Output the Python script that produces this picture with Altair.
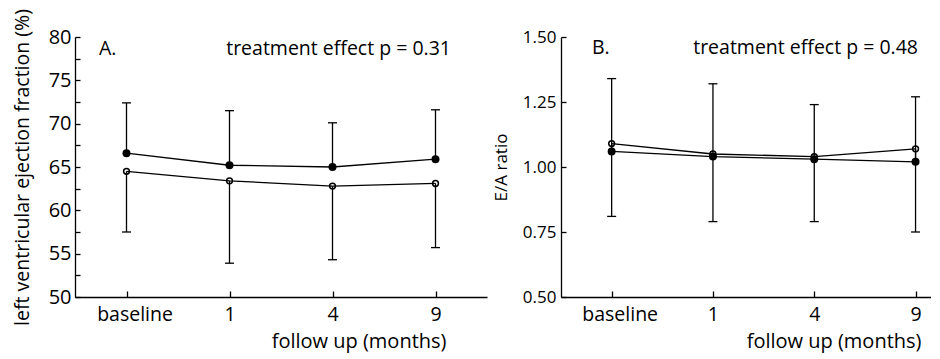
import json
import altair as alt
import pandas as pd

categories = ["baseline", "1", "4", "9"]

a_filled_mean = [66.6, 65.2, 65.0, 65.9]
a_filled_upper = [72.4, 71.5, 70.1, 71.6]
a_open_mean = [64.5, 63.4, 62.8, 63.1]
a_open_lower = [57.5, 53.9, 54.3, 55.7]

b_filled_mean = [1.06, 1.04, 1.03, 1.02]
b_filled_upper = [1.34, 1.32, 1.24, 1.27]
b_open_mean = [1.09, 1.05, 1.04, 1.07]
b_open_lower = [0.81, 0.79, 0.79, 0.75]

a_y_labels = [50, 55, 60, 65, 70, 75, 80]
a_y_ticks = [50, 52.5, 55, 57.5, 60, 62.5, 65, 67.5, 70, 72.5, 75, 77.5, 80]
b_y_labels = [0.50, 0.75, 1.00, 1.25, 1.50]

panel_letters = ["A.", "B."]
p_texts = ["treatment effect p = 0.31", "treatment effect p = 0.48"]
y_titles = ["left ventricular ejection fraction (%)", "E/A ratio"]
x_title = "follow up (months)"

FONT = "Open Sans"
label_expr = json.dumps(categories) + "[datum.value]"
cat_idx = list(range(len(categories)))


def make_df(fm, fe, om, oe):
    n = len(categories)
    return pd.DataFrame({
        "i": cat_idx * 2,
        "series": ["filled"] * n + ["open"] * n,
        "mean": fm + om,
        "end": fe + oe,
    })


def panel(df, ydom, ylabels, yticks, yfmt, ytitle, ytitle_size, ylabel_size,
          ytitle_x, ylabel_pad, letter, ptext, width, xmax, letter_x, ptext_x,
          xtitle_x, text_y):
    height = 260
    xs = alt.Scale(domain=[-0.5, xmax], nice=False, zero=False)
    ys = alt.Scale(domain=ydom, nice=False, zero=False)
    main_x_axis = alt.Axis(values=cat_idx, labelExpr=label_expr, ticks=False,
                           tickSize=0, labelPadding=8, labelFontSize=19.5,
                           labelOffset={"condition": {"test": "datum.value == 0", "value": 8},
                                        "value": 0},
                           labelAngle=0, title=x_title, titleFontSize=20,
                           titleX=xtitle_x, titleY=50, titleAlign="right",
                           titleBaseline="alphabetic", grid=False)
    main_y_axis = alt.Axis(values=ylabels, format=yfmt, ticks=False, tickSize=0,
                           labelPadding=ylabel_pad, labelFontSize=ylabel_size,
                           title=ytitle, titleFontSize=ytitle_size,
                           titleX=ytitle_x, titleBaseline="middle", grid=False)
    tick_x_axis = alt.Axis(orient="top", offset=-height, values=cat_idx,
                           labels=False, domain=False, tickSize=6, title=None,
                           grid=False)
    tick_y_axis = alt.Axis(orient="right", offset=-width, values=yticks,
                           labels=False, domain=False, tickSize=5, title=None,
                           grid=False)

    rules = alt.Chart(df).mark_rule(color="black", strokeWidth=1.3).encode(
        x=alt.X("i:Q", scale=xs, axis=tick_x_axis),
        y=alt.Y("mean:Q", scale=ys, axis=tick_y_axis),
        y2="end:Q",
    )
    caps = alt.Chart(df).mark_tick(orient="horizontal", color="black", size=9,
                                   thickness=1.3, opacity=1).encode(
        x=alt.X("i:Q", scale=xs, axis=None),
        y=alt.Y("end:Q", scale=ys, axis=None),
    )
    lines = alt.Chart(df).mark_line(color="black", strokeWidth=1.3).encode(
        x=alt.X("i:Q", scale=xs, axis=main_x_axis),
        y=alt.Y("mean:Q", scale=ys, axis=main_y_axis),
        detail="series:N",
    )
    filled_pts = alt.Chart(df).transform_filter("datum.series == 'filled'").mark_point(
        filled=True, color="black", size=64, opacity=1, shape="circle").encode(
        x=alt.X("i:Q", scale=xs, axis=None),
        y=alt.Y("mean:Q", scale=ys, axis=None),
    )
    open_pts = alt.Chart(df).transform_filter("datum.series == 'open'").mark_point(
        filled=False, color="black", size=34, strokeWidth=1.5, opacity=1,
        shape="circle").encode(
        x=alt.X("i:Q", scale=xs, axis=None),
        y=alt.Y("mean:Q", scale=ys, axis=None),
    )
    t_letter = alt.Chart(alt.Data(values=[{"t": letter}])).mark_text(
        font=FONT, fontSize=19.5, align="left", baseline="middle", color="black").encode(
        x=alt.value(letter_x), y=alt.value(text_y), text="t:N")
    t_p = alt.Chart(alt.Data(values=[{"t": ptext}])).mark_text(
        font=FONT, fontSize=19.5, align="right", baseline="middle", color="black").encode(
        x=alt.value(ptext_x), y=alt.value(text_y), text="t:N")

    return alt.layer(rules, caps, lines, filled_pts, open_pts, t_letter, t_p).resolve_axis(
        x="independent", y="independent").properties(width=width, height=height)


dfa = make_df(a_filled_mean, a_filled_upper, a_open_mean, a_open_lower)
dfb = make_df(b_filled_mean, b_filled_upper, b_open_mean, b_open_lower)

pa = panel(dfa, [50, 80], a_y_labels, a_y_ticks, "d", y_titles[0], 19.5, 20,
           -53, 4, panel_letters[0], p_texts[0], 412, 3.5, 24, 376, 371, 12)
pb = panel(dfb, [0.5, 1.5], b_y_labels, b_y_labels, ".2f", y_titles[1], 17, 17,
           -60, 5, panel_letters[1], p_texts[1], 370, -0.5 + 370 / 101.3, 31, 357,
           360, 11)

chart = alt.hconcat(pa, pb, spacing=74, bounds="flush").properties(
    padding={"left": 3, "top": 0, "right": 0, "bottom": 3}
).configure(font=FONT).configure_view(stroke=None).configure_axis(
    domainColor="black", domainWidth=1.3, tickColor="black", tickWidth=1.3,
    labelColor="black", titleColor="black", labelFont=FONT, titleFont=FONT,
    titleFontWeight="normal",
)

chart.save("out.html", embed_options={"renderer": "svg", "actions": False})
